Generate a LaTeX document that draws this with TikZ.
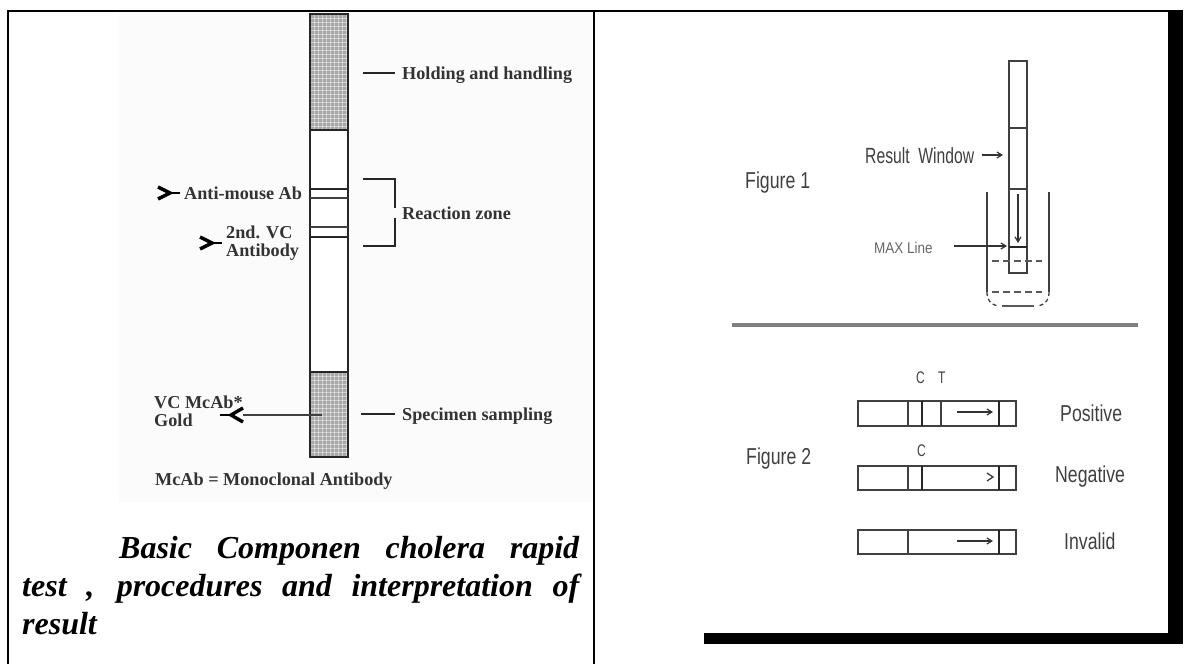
\documentclass[tikz,border=0pt]{standalone}
\usepackage{graphicx}
\usepackage{fontspec}
\setmainfont{Liberation Serif}
\newfontfamily\sansf{Liberation Sans}
\usetikzlibrary{arrows.meta}
\definecolor{panelbg}{HTML}{FBFBFB}
\definecolor{speck}{HTML}{A8A8A8}
\definecolor{rulegray}{HTML}{808080}
\newcommand{\tallr}[2]{\scalebox{1}[#1]{#2}}
\tikzset{
 x=1pt,y=-1pt,
 border/.style={line width=2pt,black},
 strip/.style={line width=1.3pt,draw=black!85},
 shaded/.style={fill=speck,draw=black!85,line width=1.3pt},
 lbl/.style={font=\fontsize{18.2}{18}\selectfont\bfseries,text=black!80,inner sep=0pt,anchor=west},
 sanslbl/.style={font=\sansf\fontsize{17.7}{21}\selectfont,text=black!75,inner sep=0pt,anchor=west},
 tick/.style={line width=1.2pt,black!85},
 ab/.style={line width=3.4pt,black,line join=miter},
 thinl/.style={line width=1.3pt,black!75},
 thick2/.style={line width=2.2pt,black!85},
 arr/.style={line width=1.2pt,black!80,-{Straight Barb[length=5pt,width=6pt]}},
 captiontext/.style={font=\fontsize{32}{37}\selectfont\bfseries\itshape,inner sep=0pt,anchor=west},
 grain/.style={white,opacity=.45,line width=.8pt},
}
\begin{document}
\begin{tikzpicture}
\useasboundingbox (0,0) rectangle (1187,664);
\fill[white] (0,0) rectangle (1187,664);
% panels
\fill[panelbg] (119,12) rectangle (592,502);
\draw[border] (8,664) -- (8,11) -- (1183,11);
\draw[border] (594,11) -- (594,664);
\fill[black] (1168,11) rectangle (1183,644);
\fill[black] (704,633) rectangle (1183,644);
% left strip
\coordinate (s1) at (310,14);
\coordinate (s2) at (348,457);
\draw[strip,fill=white] (s1) rectangle (s2);
\draw[shaded] (310,14) rectangle (348,130);
\draw[shaded] (310,372) rectangle (348,457);
\foreach \yy in {18,22,...,128} \draw[grain] (311,\yy) -- (347,\yy);
\foreach \yy in {376,380,...,455} \draw[grain] (311,\yy) -- (347,\yy);
\foreach \xx in {314,318,...,346} {
  \draw[grain] (\xx,15) -- (\xx,129);
  \draw[grain] (\xx,373) -- (\xx,456);
}
\draw[tick] (310,189) -- (348,189);
\draw[thinl] (310,198) -- (348,198);
\draw[thinl] (310,227) -- (348,227);
\draw[tick] (310,237) -- (348,237);
\node[lbl] (hold) at (402,75) {Holding and handling};
\coordinate (holdl) at (363,73);
\coordinate (holdr) at (395,73);
\draw[tick] (holdl) -- (holdr);
\node[lbl] (react) at (402,213) {Reaction zone};
\coordinate (b1) at (363,179);
\coordinate (b2) at (395,179);
\coordinate (b3) at (395,208);
\coordinate (b4) at (395,218);
\coordinate (b5) at (395,246);
\coordinate (b6) at (363,246);
\draw[tick] (b1) -- (b2) -- (b3);
\draw[tick] (b4) -- (b5) -- (b6);
\node[lbl] (anti) at (184,193) {Anti-mouse Ab};
\draw[ab] (158,187) -- (170,193) -- (158,199);
\draw[ab,line width=2pt] (170,193) -- (180,193);
\node[lbl,align=left,font=\fontsize{18.2}{17.5}\selectfont\bfseries] (vc2) at (226,243) {2nd. VC\\Antibody};
\draw[ab] (200,237) -- (212,243) -- (200,249);
\draw[ab,line width=2pt] (212,243) -- (222,243);
\node[lbl,align=left,font=\fontsize{18.2}{18}\selectfont\bfseries] (gold) at (154,411) {VC McAb*\\Gold};
\draw[ab] (243,408) -- (231,415) -- (243,422);
\draw[ab,line width=2pt] (231,415) -- (220,415);
\coordinate (goldr) at (243,415);
\coordinate (goldl) at (322,415);
\draw[thinl] (goldr) -- (goldl);
\node[lbl] (spec) at (402,416) {Specimen sampling};
\coordinate (specl) at (361,414);
\coordinate (specr) at (395,414);
\draw[tick] (specl) -- (specr);
\node[lbl] (mcab) at (155,481) {McAb = Monoclonal Antibody};
% caption
\node[captiontext] (c1) at (119,551) {\makebox[460pt][s]{Basic Componen cholera rapid}};
\node[captiontext] (c2) at (22,589) {\makebox[557pt][s]{test , procedures and interpretation of}};
\node[captiontext] (c3) at (22,624) {result};
% right figure 1
\draw[thinl] (1009,61) rectangle (1027,273);
\draw[thinl] (1009,128) -- (1027,128);
\draw[thinl] (1009,189) -- (1027,189);
\draw[thick2] (1009,247) -- (1027,247);
\coordinate (bl) at (987,192);
\coordinate (br) at (1049,192);
\draw[thinl] (bl) -- (987,292);
\draw[thinl] (br) -- (1049,292);
\draw[thinl,dash pattern=on 4pt off 3pt] (987,292) .. controls (987,300) and (990,304) .. (998,306);
\draw[thinl,dash pattern=on 4pt off 3pt] (1049,292) .. controls (1049,300) and (1046,304) .. (1038,306);
\draw[line width=1.6pt,black!65] (1002,306) -- (1034,306);
\draw[line width=1.8pt,black!65,dash pattern=on 7pt off 4pt] (992,261) -- (1042,261);
\draw[line width=1.8pt,black!65,dash pattern=on 7pt off 4pt] (992,292) -- (1042,292);
\coordinate (a1) at (1018,194);
\coordinate (a2) at (1018,243);
\draw[arr] (a1) -- (a2);
\node[sanslbl,font=\sansf\fontsize{15.7}{17}\selectfont] (rw) at (865,156) {\tallr{1.4}{Result\ \ Window}};
\coordinate (rwa) at (982,155);
\coordinate (rwb) at (1003,155);
\draw[arr] (rwa) -- (rwb);
\node[sanslbl] (f1) at (745,183) {\tallr{1.3}{Figure 1}};
\node[sanslbl,font=\sansf\fontsize{13.5}{15}\selectfont,text=black!60] (max) at (874,248) {\tallr{1.15}{MAX Line}};
\coordinate (ma) at (954,246);
\coordinate (mb) at (1007,246);
\draw[arr] (ma) -- (mb);
\draw[line width=4pt,rulegray] (732,325) -- (1138,325);
% right figure 2
\node[sanslbl,font=\sansf\fontsize{12}{14}\selectfont] (ct1) at (916,378) {\tallr{1.4}{C}};
\node[sanslbl,font=\sansf\fontsize{12}{14}\selectfont] (ct2) at (938,378) {\tallr{1.4}{T}};
\draw[thinl] (858,401) rectangle (1016,426);
\draw[thinl] (908,401) -- (908,426);
\draw[thick2] (922,401) -- (922,426);
\draw[thinl] (941,401) -- (941,426);
\draw[thick2] (999,401) -- (999,426);
\coordinate (p1) at (957,412);
\coordinate (p2) at (993,412);
\draw[arr] (p1) -- (p2);
\node[sanslbl] (pos) at (1060,413) {\tallr{1.3}{Positive}};
\node[sanslbl] (f2) at (746,459) {\tallr{1.3}{Figure 2}};
\node[sanslbl,font=\sansf\fontsize{12}{14}\selectfont] (c2l) at (917,451) {\tallr{1.4}{C}};
\draw[thinl] (858,466) rectangle (1016,490);
\draw[thinl] (908,466) -- (908,490);
\draw[thick2] (922,466) -- (922,490);
\draw[thick2] (999,466) -- (999,490);
\draw[thinl] (987,473) -- (993,477) -- (987,481);
\node[sanslbl] (neg) at (1055,477) {\tallr{1.3}{Negative}};
\draw[thinl] (858,530) rectangle (1016,554);
\draw[thinl] (908,530) -- (908,554);
\draw[thick2] (999,530) -- (999,554);
\coordinate (i1) at (957,541);
\coordinate (i2) at (993,541);
\draw[arr] (i1) -- (i2);
\node[sanslbl] (inv) at (1064,541) {\tallr{1.3}{Invalid}};
\end{tikzpicture}
\end{document}
